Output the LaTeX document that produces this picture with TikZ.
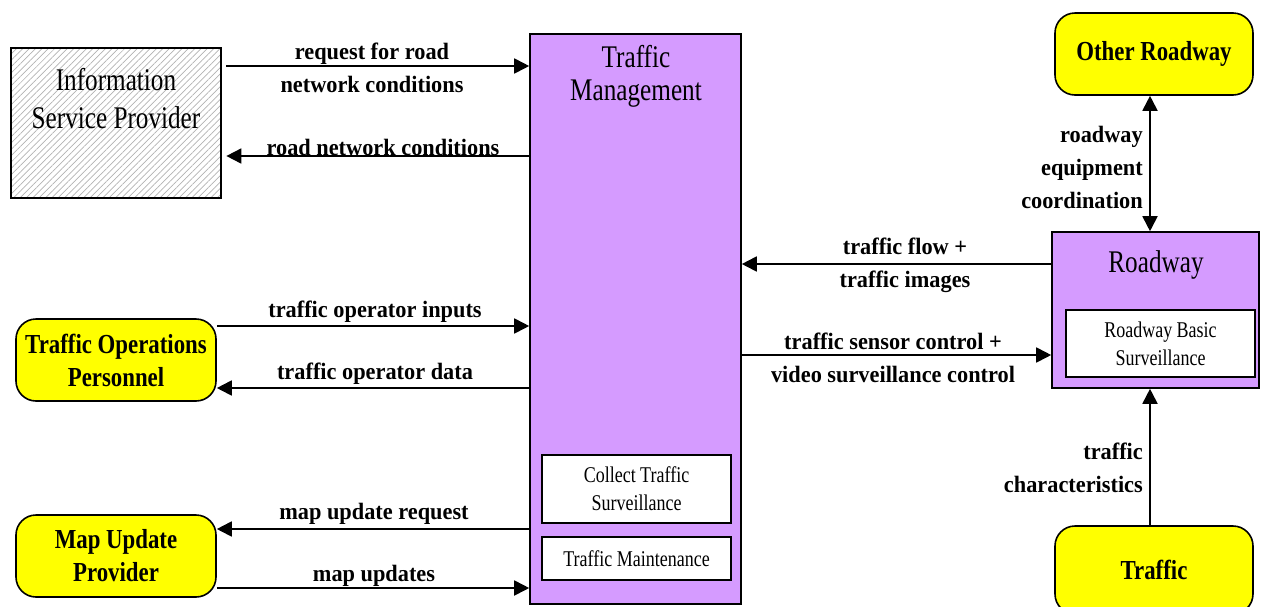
\documentclass[tikz,border=0pt]{standalone}
\usepackage{fontspec}
\setmainfont{Liberation Serif}
\newfontfamily\boxfont[FakeStretch=0.8]{Liberation Serif}
\newfontfamily\lblfont[FakeStretch=0.95]{Liberation Serif}
\newfontfamily\yfont[FakeStretch=0.83]{Liberation Serif}
\usetikzlibrary{arrows.meta,patterns.meta}
\definecolor{tmpurple}{RGB}{213,155,255}
\definecolor{yel}{RGB}{255,255,0}
\begin{document}
\begin{tikzpicture}[x=1pt,y=-1pt,
  box/.style={draw, line width=1.6pt, inner sep=0pt, align=center},
  ptitle/.style={font=\boxfont\fontsize{31.5}{33}\selectfont, align=center, inner sep=0pt},
  inner/.style={box, fill=white, font=\boxfont\fontsize{22.5}{28}\selectfont},
  ext/.style={box, fill=yel, rounded corners=20pt, font=\yfont\bfseries\fontsize{27.5}{33}\selectfont},
  arr/.style={line width=1.8pt, -{Triangle[length=15pt,width=15pt]}},
  darr/.style={line width=1.8pt, {Triangle[length=15pt,width=15pt]}-{Triangle[length=15pt,width=15pt]}},
  lbl/.style={font=\lblfont\bfseries\fontsize{23.5}{33}\selectfont, align=center, inner sep=0pt}
]
\useasboundingbox (0,0) rectangle (1262,606);

% Information Service Provider
\node[box, pattern={Lines[angle=45,distance=4.5pt,line width=0.7pt]}, pattern color=gray!60,
      minimum width=210pt, minimum height=150pt] (isp) at (116,123) {};
\node[font=\boxfont\fontsize{31.5}{38}\selectfont, align=center, inner sep=0pt] (isptext) at (116,99)
  {Information\\Service Provider};

% Traffic Management
\node[box, fill=tmpurple, minimum width=211pt, minimum height=570pt] (tm) at (635.5,319) {};
\node[ptitle] (tmtitle) at (636,76) {Traffic\\Management};
\node[inner, minimum width=189pt, minimum height=68pt] (cts) at (636.5,489) {Collect Traffic\\Surveillance};
\node[inner, minimum width=189pt, minimum height=43pt] (tmaint) at (636.5,558.5) {Traffic Maintenance};

% Roadway
\node[box, fill=tmpurple, minimum width=207pt, minimum height=156pt] (road) at (1155.5,310) {};
\node[ptitle] (roadtitle) at (1156,265) {Roadway};
\node[inner, minimum width=189pt, minimum height=67pt] (rbs) at (1160.5,343.5) {Roadway Basic\\Surveillance};

% Terminators
\node[ext, minimum width=200pt, minimum height=82pt] (top) at (116,360) {Traffic Operations\\Personnel};
\node[ext, minimum width=200pt, minimum height=82pt] (mup) at (116,556) {Map Update\\Provider};
\node[ext, minimum width=198pt, minimum height=82pt] (other) at (1154,54) {Other Roadway};
\node[ext, minimum width=198pt, minimum height=88pt] (traffic) at (1154,570) {Traffic};

% level coordinates
\coordinate (y1) at (0,66);
\coordinate (y2) at (0,156);
\coordinate (y3) at (0,326);
\coordinate (y4) at (0,388);
\coordinate (y5) at (0,529);
\coordinate (y6) at (0,588);
\coordinate (y7) at (0,264);
\coordinate (y8) at (0,355);
\coordinate (vx) at (1150,0);

% connectors
\draw[arr, shorten <=5pt] (isp.east |- y1) -- (tm.west |- y1);
\draw[arr, shorten >=5pt] (tm.west |- y2) -- (isp.east |- y2);
\draw[arr] (top.east |- y3) -- (tm.west |- y3);
\draw[arr] (tm.west |- y4) -- (top.east |- y4);
\draw[arr] (tm.west |- y5) -- (mup.east |- y5);
\draw[arr] (mup.east |- y6) -- (tm.west |- y6);
\draw[arr] (road.west |- y7) -- (tm.east |- y7);
\draw[arr] (tm.east |- y8) -- (road.west |- y8);
\draw[darr] (other.south -| vx) -- (road.north -| vx);
\draw[arr] (traffic.north -| vx) -- (road.south -| vx);

% labels
\node[lbl] (l1) at (372,68) {request for road\\network conditions};
\node[lbl] (l2) at (383,147) {road network conditions};
\node[lbl] (l3) at (375,312) {traffic operator inputs};
\node[lbl] (l4) at (375,374) {traffic operator data};
\node[lbl] (l5) at (374,514) {map update request};
\node[lbl] (l6) at (374,576) {map updates};
\node[lbl] (l7) at (905,265) {traffic flow +\\traffic images};
\node[lbl] (l8) at (893,358) {traffic sensor control +\\video surveillance control};
\node[lbl, align=right, anchor=east] (l9) at (1143,167) {roadway\\equipment\\coordination};
\node[lbl, align=right, anchor=east] (l10) at (1143,468) {traffic\\characteristics};
\end{tikzpicture}
\end{document}
